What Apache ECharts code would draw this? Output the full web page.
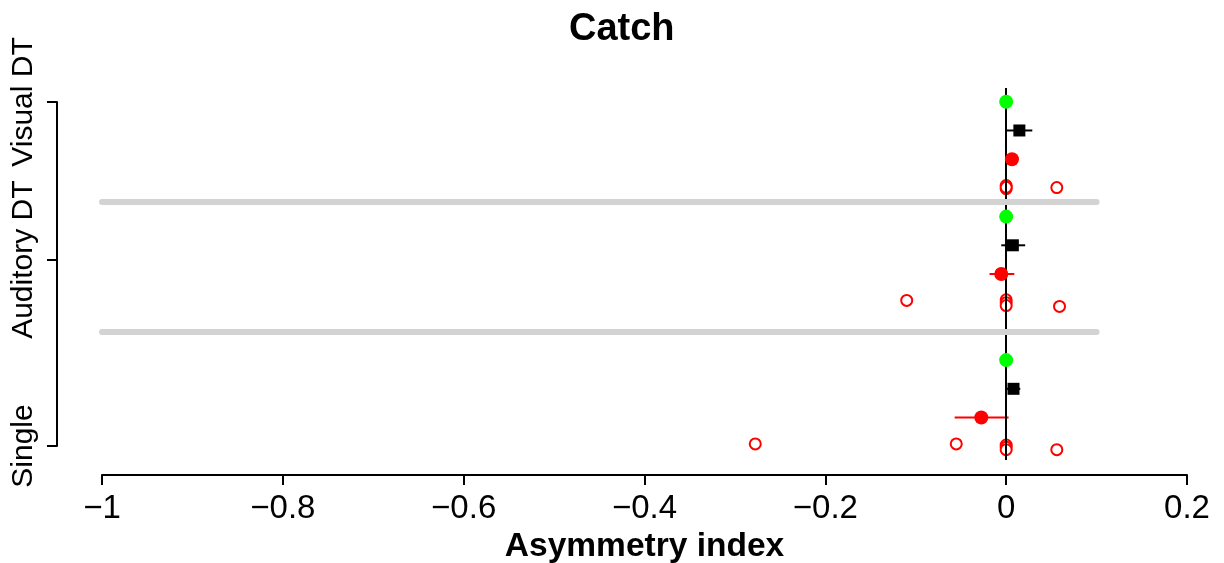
<!DOCTYPE html>
<html lang="en">
<head>
  <meta charset="UTF-8">
  <title>Catch</title>
  <script src="https://cdn.jsdelivr.net/npm/echarts@6/dist/echarts.min.js"></script>
  <style>
    html, body { margin: 0; padding: 0; background: #fff; }
  </style>
</head>
<body>
  <div id="main" style="width:1224px;height:563px"></div>
  <script>
    // row positions on the vertical axis: Single 0-3, Auditory DT 5-8, Visual DT 9-12
    var groupNames = ['Single', 'Auditory DT', 'Visual DT'];
    var groupTickPos = [0, 6.5, 12];
    var separatorPos = [4, 8.5];
    var separatorFrom = -1, separatorTo = 0.1;

    // green points
    var greenX = [0, 0, 0];
    var greenY = [3, 8, 12];

    // black squares with error bars
    var blackX = [0.0081, 0.0074, 0.0146];
    var blackLo = [0.0006, -0.0054, 0.0009];
    var blackHi = [0.0156, 0.0210, 0.0289];
    var blackY = [2, 7, 11];

    // red filled points with error bars
    var redX = [-0.0275, -0.0054, 0.0064];
    var redLo = [-0.0570, -0.0184, 0.0030];
    var redHi = [0.0027, 0.0090, 0.0098];
    var redY = [1, 6, 10];

    // red open circles (individual values, slightly jittered)
    var openX = [-0.2775, -0.0552, 0, 0, 0, 0.0560,
                 -0.1100, 0, 0, 0, 0.0590,
                 0, 0, 0, 0.0560];
    var openY = [0.08, 0.08, 0.04, -0.04, -0.12, -0.12,
                 5.08, 5.10, 5.00, 4.90, 4.87,
                 9.08, 8.97, 9.02, 9.01];

    function zip(a, b) { return a.map(function (v, i) { return [v, b[i]]; }); }
    function bars(lo, hi, y) { return y.map(function (v, i) { return [lo[i], hi[i], v]; }); }

    function errorBar(color) {
      return function (params, api) {
        var p1 = api.coord([api.value(0), api.value(2)]);
        var p2 = api.coord([api.value(1), api.value(2)]);
        return {
          type: 'line',
          shape: { x1: p1[0], y1: p1[1], x2: p2[0], y2: p2[1] },
          style: { stroke: color, lineWidth: 2 }
        };
      };
    }

    var font = 'Liberation Sans, Arial, sans-serif';
    var myChart = echarts.init(document.getElementById('main'));

    var option = {
      animation: false,
      backgroundColor: '#fff',
      title: {
        text: 'Catch',
        left: 569,
        top: 11,
        padding: 0,
        textStyle: { fontFamily: font, fontWeight: 'bold', fontSize: 38, color: '#000' }
      },
      grid: [
        { left: 102, right: 37, top: 88, height: 372, outerBoundsMode: 'none' },
        { left: 57, width: 1, top: 102, height: 344, outerBoundsMode: 'none' }
      ],
      xAxis: [{
        gridIndex: 0,
        type: 'value',
        min: -1,
        max: 0.2,
        interval: 0.2,
        offset: 15,
        name: 'Asymmetry index',
        nameLocation: 'middle',
        nameGap: 42,
        nameTextStyle: { fontFamily: font, fontWeight: 'bold', fontSize: 33.5, color: '#000' },
        axisLine: { onZero: false, lineStyle: { color: '#000', width: 2 } },
        axisTick: { length: 10, lineStyle: { color: '#000', width: 2 } },
        axisLabel: {
          margin: 17,
          fontFamily: font,
          fontSize: 33,
          color: '#000',
          formatter: function (v) {
            var r = Math.round(v * 10) / 10;
            return (r < 0 ? '\u2212' : '') + Math.abs(r);
          }
        },
        splitLine: { show: false }
      }, {
        gridIndex: 1,
        type: 'value',
        min: 0,
        max: 1,
        show: false
      }],
      yAxis: [{
        gridIndex: 0,
        type: 'value',
        min: -0.48,
        max: 12.48,
        show: false
      }, {
        gridIndex: 1,
        type: 'value',
        min: 0,
        max: 12,
        axisLine: { show: true, onZero: false, lineStyle: { color: '#000', width: 2 } },
        axisTick: { show: true, length: 10, customValues: groupTickPos, lineStyle: { color: '#000', width: 2 } },
        axisLabel: {
          customValues: groupTickPos,
          rotate: 90,
          margin: 18,
          fontFamily: font,
          fontSize: 30,
          color: '#000',
          formatter: function (v) {
            var i = groupTickPos.indexOf(v);
            return i >= 0 ? groupNames[i] : '';
          }
        },
        splitLine: { show: false }
      }],
      series: [
        {
          // zero line and group separators
          type: 'line',
          xAxisIndex: 0,
          yAxisIndex: 0,
          data: [],
          markLine: {
            silent: true,
            symbol: 'none',
            label: { show: false },
            data: [
              { xAxis: 0, lineStyle: { color: '#000', width: 2, type: 'solid' } }
            ].concat(separatorPos.map(function (y) {
              return [
                { coord: [separatorFrom, y], lineStyle: { color: '#d3d3d3', width: 6, type: 'solid', cap: 'round' } },
                { coord: [separatorTo, y] }
              ];
            }))
          },
          z: 1
        },
        {
          type: 'custom',
          renderItem: errorBar('#000'),
          data: bars(blackLo, blackHi, blackY),
          encode: { x: [0, 1], y: 2 },
          z: 3
        },
        {
          type: 'custom',
          renderItem: errorBar('#ff0000'),
          data: bars(redLo, redHi, redY),
          encode: { x: [0, 1], y: 2 },
          z: 3
        },
        {
          type: 'scatter',
          data: zip(openX, openY),
          symbol: 'circle',
          symbolSize: 11,
          itemStyle: { color: '#fff', borderColor: '#ff0000', borderWidth: 2, opacity: 1 },
          z: 4
        },
        {
          type: 'scatter',
          data: zip(greenX, greenY),
          symbol: 'circle',
          symbolSize: 14,
          itemStyle: { color: '#00ff00', opacity: 1 },
          z: 5
        },
        {
          type: 'scatter',
          data: zip(blackX, blackY),
          symbol: 'rect',
          symbolSize: 12,
          itemStyle: { color: '#000', opacity: 1 },
          z: 5
        },
        {
          type: 'scatter',
          data: zip(redX, redY),
          symbol: 'circle',
          symbolSize: 14,
          itemStyle: { color: '#ff0000', opacity: 1 },
          z: 5
        }
      ]
    };

    myChart.setOption(option);
  </script>
</body>
</html>
